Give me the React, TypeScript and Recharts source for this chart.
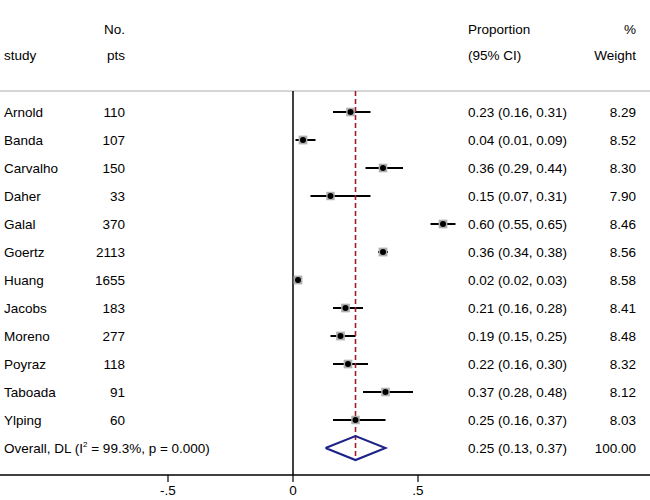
import React from 'react';
import { ComposedChart, XAxis, YAxis, Scatter, ReferenceLine } from 'recharts';

// ---------- data ----------
const studies = ['Arnold', 'Banda', 'Carvalho', 'Daher', 'Galal', 'Goertz', 'Huang', 'Jacobs', 'Moreno', 'Poyraz', 'Taboada', 'Ylping'];
const nPts = [110, 107, 150, 33, 370, 2113, 1655, 183, 277, 118, 91, 60];
const estimates = [0.23, 0.04, 0.36, 0.15, 0.60, 0.36, 0.02, 0.21, 0.19, 0.22, 0.37, 0.25];
const lowerCI = [0.16, 0.01, 0.29, 0.07, 0.55, 0.34, 0.02, 0.16, 0.15, 0.16, 0.28, 0.16];
const upperCI = [0.31, 0.09, 0.44, 0.31, 0.65, 0.38, 0.03, 0.28, 0.25, 0.30, 0.48, 0.37];
const weights = ['8.29', '8.52', '8.30', '7.90', '8.46', '8.56', '8.58', '8.41', '8.48', '8.32', '8.12', '8.03'];

const overallName = 'Overall, DL';
const overallI2 = '99.3%';
const overallP = '0.000';
const overallEst = 0.25;
const overallLo = 0.13;
const overallHi = 0.37;
const overallWeight = '100.00';

const headerTop = ['', 'No.', 'Proportion', '%'];
const headerBottom = ['study', 'pts', '(95% CI)', 'Weight'];

const xTicks = [-0.5, 0, 0.5];
const xTickLabels = ['-.5', '0', '.5'];

// ---------- layout ----------
const FONT = '"Liberation Sans", Arial, Helvetica, sans-serif';
const FS = 13.5;
const W = 650;
const H = 500;
const X_DOMAIN: [number, number] = [-1.172, 1.428];
const Y_DOMAIN: [number, number] = [-4, 12.964];
const HEADER_ROW_1 = -2.95;
const HEADER_ROW_2 = -2.03;
const SEP_ROW = -0.75;
const OVERALL_ROW = studies.length;
const DIAMOND_HALF = 0.43;

const COL_STUDY = 4;
const COL_N = 125;
const COL_PROP = 468;
const COL_W = 636;

const fmt = (v: number) => v.toFixed(2);

const points = studies.map((s, i) => ({ x: estimates[i], y: i, w: parseFloat(weights[i]) }));
const diamond = [
  { x: overallLo, y: OVERALL_ROW },
  { x: overallEst, y: OVERALL_ROW - DIAMOND_HALF },
  { x: overallHi, y: OVERALL_ROW },
  { x: overallEst, y: OVERALL_ROW + DIAMOND_HALF },
  { x: overallLo, y: OVERALL_ROW },
];

// table rows: anchored to the y scale (x is irrelevant, kept at 0)
type Row = { x: number; y: number; kind: 'h1' | 'h2' | 'study' | 'overall'; i?: number };
const tableRows: Row[] = [
  { x: 0, y: HEADER_ROW_1, kind: 'h1' },
  { x: 0, y: HEADER_ROW_2, kind: 'h2' },
  ...studies.map((_, i) => ({ x: 0, y: i, kind: 'study' as const, i })),
  { x: 0, y: OVERALL_ROW, kind: 'overall' },
];

const txt = (x: number, y: number, s: string, anchor: 'start' | 'end') => (
  <text x={x} y={y} dy={5} textAnchor={anchor} fontFamily={FONT} fontSize={FS} fill="#000">
    {s}
  </text>
);

const RowText = (props: any) => {
  const { cy, payload } = props;
  const y = cy;
  if (payload.kind === 'h1' || payload.kind === 'h2') {
    const h = payload.kind === 'h1' ? headerTop : headerBottom;
    return (
      <g>
        {txt(COL_STUDY, y, h[0], 'start')}
        {txt(COL_N, y, h[1], 'end')}
        {txt(COL_PROP, y, h[2], 'start')}
        {txt(COL_W, y, h[3], 'end')}
      </g>
    );
  }
  if (payload.kind === 'overall') {
    return (
      <g>
        <text x={COL_STUDY} y={y} dy={5} textAnchor="start" fontFamily={FONT} fontSize={FS} fill="#000">
          {`${overallName} (I`}
          <tspan fontSize={8} dy={-6}>2</tspan>
          <tspan dy={6}>{` = ${overallI2}, p = ${overallP})`}</tspan>
        </text>
        {txt(COL_PROP, y, `${fmt(overallEst)} (${fmt(overallLo)}, ${fmt(overallHi)})`, 'start')}
        {txt(COL_W, y, overallWeight, 'end')}
      </g>
    );
  }
  const i = payload.i as number;
  return (
    <g>
      {txt(COL_STUDY, y, studies[i], 'start')}
      {txt(COL_N, y, String(nPts[i]), 'end')}
      {txt(COL_PROP, y, `${fmt(estimates[i])} (${fmt(lowerCI[i])}, ${fmt(upperCI[i])})`, 'start')}
      {txt(COL_W, y, weights[i], 'end')}
    </g>
  );
};

const StudyMarker = (props: any) => {
  const { cx, cy, payload } = props;
  const side = Math.sqrt(payload.w) * 3;
  return (
    <g>
      <rect x={cx - side / 2} y={cy - side / 2} width={side} height={side} fill="#b0b0b0" />
      <circle cx={cx} cy={cy} r={3} fill="#000" />
    </g>
  );
};

const XTick = (props: any) => {
  const { x, y, payload } = props;
  const idx = xTicks.indexOf(payload.value);
  return (
    <text x={x} y={y} dy={9} textAnchor="middle" fontFamily={FONT} fontSize={FS} fill="#000">
      {idx >= 0 ? xTickLabels[idx] : String(payload.value)}
    </text>
  );
};

const NoMarker = () => <g />;

export default function App() {
  return (
    <div style={{ position: 'absolute', left: 0, top: 0, width: W, height: H, background: '#fff' }}>
      <ComposedChart width={W} height={H} margin={{ top: 0, right: 0, bottom: 0, left: 0 }}>
        <XAxis
          type="number"
          dataKey="x"
          domain={X_DOMAIN}
          allowDataOverflow
          ticks={xTicks}
          interval={0}
          height={25}
          tickSize={7}
          tickMargin={4}
          axisLine={{ stroke: '#000', strokeWidth: 1.5 }}
          tickLine={{ stroke: '#000', strokeWidth: 1.2 }}
          tick={XTick}
        />
        <YAxis type="number" dataKey="y" domain={Y_DOMAIN} allowDataOverflow reversed hide />
        <ReferenceLine y={SEP_ROW} stroke="#c8c8c8" strokeWidth={1.5} ifOverflow="visible" />
        <ReferenceLine
          segment={[{ x: 0, y: SEP_ROW }, { x: 0, y: Y_DOMAIN[1] }]}
          stroke="#000"
          strokeWidth={1.5}
          ifOverflow="visible"
        />
        {studies.map((s, i) => (
          <ReferenceLine
            key={s}
            segment={[{ x: lowerCI[i], y: i }, { x: upperCI[i], y: i }]}
            stroke="#000"
            strokeWidth={2}
            ifOverflow="visible"
          />
        ))}
        <ReferenceLine
          segment={[{ x: overallEst, y: SEP_ROW }, { x: overallEst, y: OVERALL_ROW + DIAMOND_HALF }]}
          stroke="#9a1f1f"
          strokeWidth={1.6}
          strokeDasharray="5 3"
          ifOverflow="visible"
        />
        <Scatter data={tableRows} shape={RowText} isAnimationActive={false} />
        <Scatter data={points} shape={StudyMarker} isAnimationActive={false} />
        <Scatter
          data={diamond}
          shape={NoMarker}
          line={{ stroke: '#1c2288', strokeWidth: 2, strokeLinejoin: 'miter' }}
          isAnimationActive={false}
        />
      </ComposedChart>
    </div>
  );
}
